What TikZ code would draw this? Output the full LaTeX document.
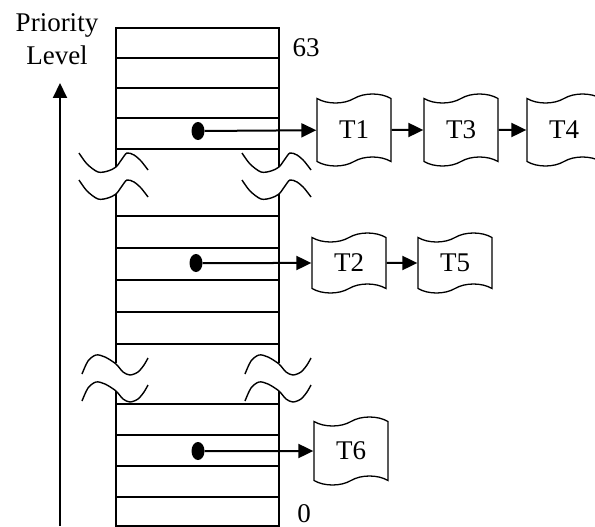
\documentclass[tikz,border=0pt]{standalone}
\usepackage{fontspec}
\setmainfont{Liberation Serif}
\usetikzlibrary{arrows.meta,shapes.symbols,shapes.geometric}
\begin{document}
\begin{tikzpicture}[x=1pt,y=-1pt,
  col/.style={line width=1.4pt},
  rowl/.style={line width=1.6pt},
  wv/.style={line width=1.4pt},
  arr/.style={line width=2pt,-{Triangle[length=15pt,width=14pt]}},
  task/.style={draw,line width=1.3pt,tape,tape bend height=9pt,minimum width=74pt,minimum height=66pt,inner sep=0pt,font=\fontsize{27}{32}\selectfont},
  dotn/.style={ellipse,fill,inner sep=0pt,minimum width=13pt,minimum height=18pt},
  lbl/.style={font=\fontsize{27}{32}\selectfont,inner sep=0pt,anchor=base},
  wavedown/.pic={\draw[wv] plot[smooth] coordinates {(-37,0) (-29,11) (-18,19) (-8,18) (0,14) (6,6) (11,0) (18,2) (25,8) (32,17)};},
  waveup/.pic={\draw[wv] plot[smooth] coordinates {(-34,19) (-28,6) (-20,0) (-11,2) (0,9) (7,17) (14,20) (22,17) (28,10) (32,3)};}
]
\useasboundingbox (0,0) rectangle (595,527);
\clip (0,0) rectangle (595,527);
% column
\draw[col] (116,167) -- (116,28) -- (279,28) -- (279,167);
\draw[col] (116,194) -- (116,363);
\draw[col] (279,194) -- (279,363);
\draw[col] (116,391) -- (116,526) -- (279,526) -- (279,391);
\foreach \yy in {58,88,118,149,216,248,280,312,344,404,435,466,497}
  \draw[rowl] (116,\yy) -- (279,\yy);
% breaks
\pic at (116,153) {wavedown};
\pic at (279,153) {wavedown};
\pic at (116,180) {wavedown};
\pic at (279,180) {wavedown};
\pic at (116,355) {waveup};
\pic at (279,355) {waveup};
\pic at (116,382) {waveup};
\pic at (279,382) {waveup};
% labels
\node[lbl] (pr) at (57,32) {Priority};
\node[lbl] (lv) at (57,65) {Level};
\node[lbl] (n63) at (306,57) {63};
\node[lbl] (n0) at (304,522) {0};
% priority arrow
\coordinate (ab) at (60,526);
\coordinate (at) at (60,83);
\draw[arr] (ab) -- (at);
% dots
\node[dotn] (d1) at (198,131) {};
\node[dotn] (d2) at (196,263) {};
\node[dotn] (d3) at (198,451) {};
% tasks
\node[task,minimum height=72pt] (T1) at (354,130) {T1};
\node[task,minimum height=72pt] (T3) at (461,130) {T3};
\node[task,minimum height=72pt] (T4) at (564,130) {T4};
\node[task,minimum height=60pt] (T2) at (349,263) {T2};
\node[task,minimum height=60pt] (T5) at (455,263) {T5};
\node[task,minimum height=68pt] (T6) at (351,451) {T6};
% connectors
\draw[arr] (d1) -- (T1);
\draw[arr] (T1) -- (T3);
\draw[arr] (T3) -- (T4);
\draw[arr] (d2) -- (T2);
\draw[arr] (T2) -- (T5);
\draw[arr] (d3) -- (T6);
\end{tikzpicture}
\end{document}
